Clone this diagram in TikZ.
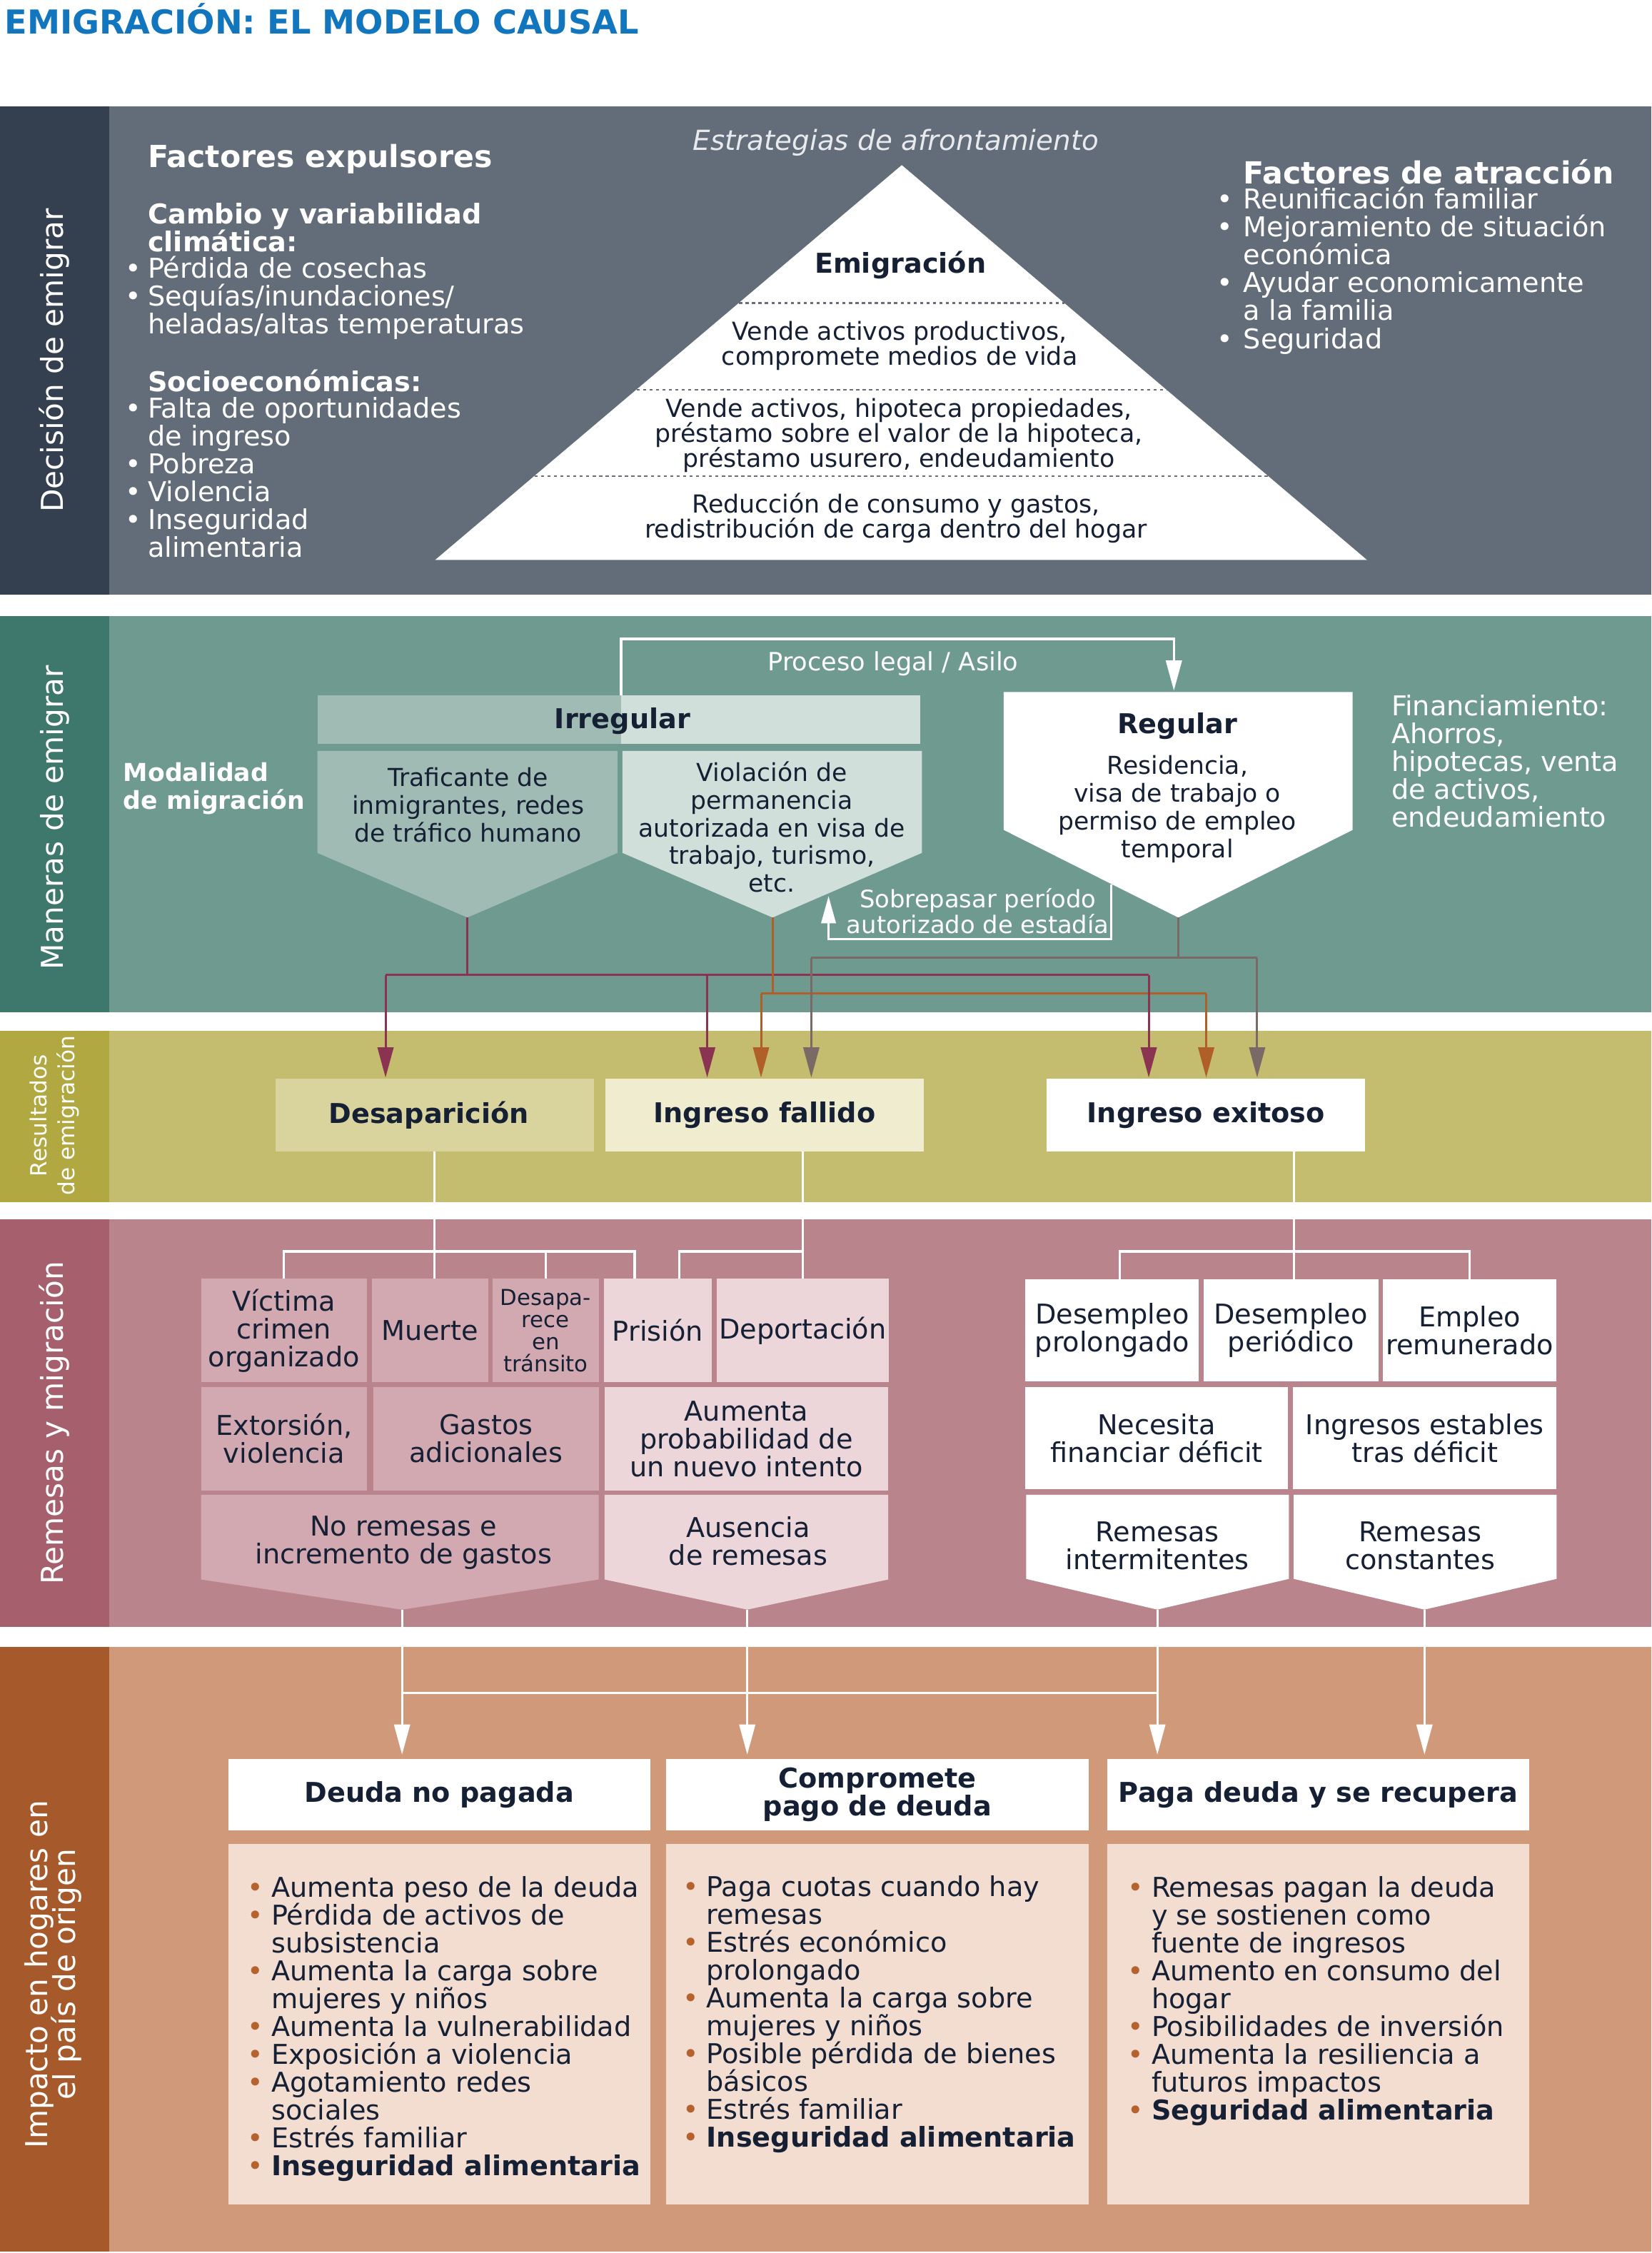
\documentclass[tikz,border=0pt]{standalone}
\usepackage{fontspec}
\setmainfont{DejaVu Sans}
\usetikzlibrary{arrows.meta}
\definecolor{titleblue}{RGB}{17,118,189}
\definecolor{sAbar}{RGB}{52,63,79}
\definecolor{sAbg}{RGB}{99,108,121}
\definecolor{sBbar}{RGB}{62,120,109}
\definecolor{sBbg}{RGB}{111,154,144}
\definecolor{irrmid}{RGB}{160,186,180}
\definecolor{irrlight}{RGB}{208,223,217}
\definecolor{sCbar}{RGB}{178,168,66}
\definecolor{sCbg}{RGB}{196,189,111}
\definecolor{desapc}{RGB}{217,212,158}
\definecolor{fallc}{RGB}{240,236,208}
\definecolor{sDbar}{RGB}{165,95,109}
\definecolor{sDbg}{RGB}{186,132,141}
\definecolor{pinkmid}{RGB}{211,169,177}
\definecolor{pinklight}{RGB}{236,214,218}
\definecolor{sEbar}{RGB}{166,89,42}
\definecolor{sEbg}{RGB}{208,153,122}
\definecolor{bodyc}{RGB}{242,221,208}
\definecolor{bulc}{RGB}{181,98,46}
\definecolor{txtc}{RGB}{22,32,52}
\definecolor{redl}{RGB}{139,52,82}
\definecolor{orl}{RGB}{176,95,40}
\definecolor{gyl}{RGB}{122,106,101}
\definecolor{dotc}{RGB}{105,110,120}
\definecolor{italc}{RGB}{232,234,238}
\newcommand\fb{\fontsize{19}{19.4}\selectfont\lineskiplimit=-50pt\relax}
\newcommand\fbb{\fontsize{19}{19.4}\selectfont\bfseries\lineskiplimit=-50pt\relax}
\newcommand\fhead{\fontsize{21.2}{22}\selectfont\bfseries}
\newcommand\fmid{\fontsize{17.2}{19.3}\selectfont\lineskiplimit=-50pt\relax}
\newcommand\fmidb{\fontsize{17.2}{19.3}\selectfont\bfseries\lineskiplimit=-50pt\relax}
\newcommand\ftri{\fontsize{17.3}{17.4}\selectfont\lineskiplimit=-50pt\relax}
\newcommand\fsob{\fontsize{16.8}{17.5}\selectfont\lineskiplimit=-50pt\relax}
\newcommand\fvert{\fontsize{21}{19.5}\selectfont\lineskiplimit=-50pt\relax}
\newcommand\fverts{\fontsize{15.5}{19.2}\selectfont\lineskiplimit=-50pt\relax}
\newcommand\fdes{\fontsize{15.3}{15.4}\selectfont\lineskiplimit=-50pt\relax}
\newcommand\bulW{\llap{•\hspace{4.4pt}}}
\newcommand\bulR{\llap{•\hspace{7.4pt}}}
\newcommand\bulO{\llap{\textcolor{bulc}{•}\hspace{5.4pt}}}
\tikzset{
  dt/.style={inner sep=0pt, outer sep=0pt, align=center, text=txtc, font=\fb},
  wt/.style={inner sep=0pt, outer sep=0pt, align=center, text=white, font=\fb},
  vt/.style={inner sep=0pt, align=center, text=white, font=\fvert, rotate=90},
  cbox/.style={inner sep=0pt, outer sep=0pt, align=center, text=txtc, font=\fb},
  wl/.style={draw=white, line width=1.6pt},
  cl/.style={line width=1.5pt},
  arr/.style={-{Triangle[length=21pt,width=11pt]}, shorten >=1pt},
  dotl/.style={draw=dotc, line width=1.3pt, dash pattern=on 2.2pt off 2.3pt},
}
\begin{document}
\begin{tikzpicture}[x=1pt,y=-1pt]
\useasboundingbox (0,0) rectangle (1150,1569.1);
\fill[white] (0,0) rectangle (1150,1569.1);

% ---------- title
\node[anchor=base west, inner sep=0pt, text=titleblue, font=\fontsize{23}{24}\selectfont\bfseries] (title) at (3,23.8) {EMIGRACIÓN: EL MODELO CAUSAL};

% ---------- section 1
\fill[sAbg] (0,74) rectangle (1150,414);
\fill[sAbar] (0,74) rectangle (76,414);
\node[vt] (vA) at (38,251) {Decisión de emigrar};

\fill[white] (628,115) -- (952,390) -- (303,390) -- cycle;
\draw[dotl] (514.7,211) -- (741.3,211);
\draw[dotl] (443.3,271.5) -- (812.7,271.5);
\draw[dotl] (372.2,331.7) -- (883.8,331.7);
\node[dt, font=\fbb] (emig) at (627,184.5) {Emigración};
\node[dt, font=\ftri] (tri1) at (626.5,241) {Vende activos productivos,\\compromete medios de vida};
\node[dt, font=\ftri] (tri2) at (626,303) {Vende activos, hipoteca propiedades,\\préstamo sobre el valor de la hipoteca,\\préstamo usurero, endeudamiento};
\node[dt, font=\ftri] (tri3) at (624,361) {Reducción de consumo y gastos,\\redistribución de carga dentro del hogar};
\node[inner sep=0pt, text=italc, font=\fontsize{19.3}{20}\selectfont\itshape] (estr) at (624,99.5) {Estrategias de afrontamiento};

\node[wt, font=\fhead, anchor=west] (fexp) at (103,110.5) {Factores expulsores};
\node[wt, font=\fbb, anchor=west, align=left] (cambio) at (103,158.5) {Cambio y variabilidad\\climática:};
\node[wt, anchor=west, align=left] (listA) at (103,207.5) {\bulW Pérdida de cosechas\\\bulW Sequías/inundaciones/\\heladas/altas temperaturas};
\node[wt, font=\fbb, anchor=west] (socio) at (103,265) {Socioeconómicas:};
\node[wt, anchor=west, align=left] (listB) at (103,332.5) {\bulW Falta de oportunidades\\de ingreso\\\bulW Pobreza\\\bulW Violencia\\\bulW Inseguridad\\alimentaria};

\node[wt, font=\fhead, anchor=west] (fatr) at (866,119.5) {Factores de atracción};
\node[wt, anchor=west, align=left] (listC) at (866,188.5) {\bulR Reunificación familiar\\\bulR Mejoramiento de situación\\económica\\\bulR Ayudar economicamente\\a la familia\\\bulR Seguridad};

% ---------- section 2
\fill[sBbg] (0,429) rectangle (1150,705);
\fill[sBbar] (0,429) rectangle (76,705);
\node[vt] (vB) at (38,569.5) {Maneras de emigrar};
\node[wt, font=\fmidb, anchor=west, align=left] (modal) at (86,549) {Modalidad\\de migración};

\fill[irrmid] (221,484) rectangle (432.5,518);
\fill[irrlight] (432.5,484) rectangle (641,518);
\node[dt, font=\fbb] (irr) at (433.5,502) {Irregular};
\coordinate (irrtop) at (432.5,484);

\fill[irrmid] (221,523) -- (430,523) -- (430,594) -- (325.5,639) -- (221,594) -- cycle;
\coordinate (traf) at (325.5,639);
\node[dt, font=\fmid] (traftxt) at (326,560.5) {Traficante de\\inmigrantes, redes\\de tráfico humano};

\fill[irrlight] (433.5,523) -- (642,523) -- (642,594) -- (538,639) -- (433.5,594) -- cycle;
\coordinate (viol) at (538,639);
\coordinate (violedge) at (577,624);
\node[dt, font=\fmid] (violtxt) at (537.5,576) {Violación de\\permanencia\\autorizada en visa de\\trabajo, turismo,\\etc.};

\fill[white] (699,482) -- (942,482) -- (942,578) -- (820.5,639) -- (699,578) -- cycle;
\coordinate (reg) at (820.5,639);
\coordinate (regin) at (817.5,482);
\coordinate (regedge) at (774,616);
\node[dt, font=\fbb] (regt) at (820,505.5) {Regular};
\node[dt, font=\fmid] (regtxt) at (820,563.5) {Residencia,\\visa de trabajo o\\permiso de empleo\\temporal};

\draw[wl, arr] (irrtop) -- ++(0,-39) -| (regin);
\node[wt, font=\fontsize{17.5}{18}\selectfont] (proc) at (622,462.5) {Proceso legal / Asilo};
\draw[wl, -{Triangle[length=19pt,width=10pt]}] (regedge) -- ++(0,38) -| (violedge);
\node[wt, font=\fsob] (sobre) at (681,634.5) {Sobrepasar período\\autorizado de estadía};
\node[wt, anchor=west, align=left] (fin) at (969,530.2) {Financiamiento:\\Ahorros,\\hipotecas, venta\\de activos,\\endeudamiento};

% ---------- section 3
\fill[sCbg] (0,718) rectangle (1150,837);
\fill[sCbar] (0,718) rectangle (76,837);
\node[vt, font=\fverts] (vC) at (38,777) {Resultados\\de emigración};
\node[cbox, font=\fbb, fill=desapc, minimum width=222pt, minimum height=50.5pt] (desap) at (302.7,776.7) {Desaparición\hspace{8pt}};
\node[cbox, font=\fbb, fill=fallc, minimum width=221.5pt, minimum height=50.5pt] (fallido) at (532.4,776.7) {Ingreso fallido};
\node[cbox, font=\fbb, fill=white, minimum width=222pt, minimum height=50.5pt] (exito) at (839.8,776.7) {Ingreso exitoso};

% colored connectors
\coordinate (g1) at (565,667); \coordinate (g2) at (875.5,667);
\coordinate (r1) at (268.5,679); \coordinate (r2) at (492.5,679); \coordinate (r3) at (800,679);
\coordinate (o1) at (530,692); \coordinate (o2) at (840,692);
\draw[cl, gyl] (reg) -- (reg |- g1);
\draw[cl, gyl] (g1) -- (g2);
\draw[cl, redl] (traf) -- (traf |- r1);
\draw[cl, redl] (r1) -- (r3);
\draw[cl, orl] (viol) -- (viol |- o1);
\draw[cl, orl] (o1) -- (o2);
\draw[cl, gyl, arr] (g1) -- (g1 |- fallido.north);
\draw[cl, gyl, arr] (g2) -- (g2 |- exito.north);
\draw[cl, redl, arr] (r1) -- (r1 |- desap.north);
\draw[cl, redl, arr] (r2) -- (r2 |- fallido.north);
\draw[cl, redl, arr] (r3) -- (r3 |- exito.north);
\draw[cl, orl, arr] (o1) -- (o1 |- fallido.north);
\draw[cl, orl, arr] (o2) -- (o2 |- exito.north);

% ---------- section 4
\fill[sDbg] (0,849) rectangle (1150,1133);
\fill[sDbar] (0,849) rectangle (76,1133);
\node[vt] (vD) at (38,991) {Remesas y migración};

\node[cbox, fill=pinkmid, minimum width=115.6pt, minimum height=72pt] (victima) at (197.8,926.6) {Víctima\\crimen\\organizado};
\node[cbox, fill=pinkmid, minimum width=81pt, minimum height=72pt] (muerte) at (299.5,926.6) {Muerte};
\node[cbox, font=\fdes, fill=pinkmid, minimum width=74pt, minimum height=72pt] (desapt) at (380,926.6) {Desapa-\\rece\\en\\tránsito};
\node[cbox, fill=pinklight, minimum width=75pt, minimum height=72pt] (prision) at (458.1,926.6) {Prisión};
\node[cbox, fill=pinklight, minimum width=120pt, minimum height=72pt] (depor) at (559,926.6) {\raisebox{-2pt}{Deportación}};

\node[cbox, fill=pinkmid, minimum width=115.6pt, minimum height=72pt] (extor) at (197.8,1002) {Extorsión,\\violencia};
\node[cbox, fill=pinkmid, minimum width=157pt, minimum height=72pt] (gastos) at (338.5,1002) {Gastos\\adicionales};
\node[cbox, fill=pinklight, minimum width=197.6pt, minimum height=72pt] (aumenta) at (519.8,1002) {Aumenta\\probabilidad de\\un nuevo intento};

\fill[pinkmid] (140,1041) -- (417,1041) -- (417,1100) -- (280,1121) -- (140,1100) -- cycle;
\coordinate (nrp) at (280,1121);
\node[dt] (noremtxt) at (281,1074.5) {No remesas e\\incremento de gastos};
\fill[pinklight] (421,1041) -- (618.6,1041) -- (618.6,1100) -- (520.4,1121) -- (421,1100) -- cycle;
\coordinate (ausp) at (520.4,1121);
\node[dt] (austxt) at (521,1073.5) {Ausencia\\de remesas};

\node[cbox, fill=white, minimum width=121pt, minimum height=71pt] (prolong) at (774.5,926.5) {Desempleo\\prolongado};
\node[cbox, fill=white, minimum width=122pt, minimum height=71pt] (perio) at (899,926.5) {Desempleo\\periódico};
\node[cbox, fill=white, minimum width=121pt, minimum height=71pt] (remun) at (1023.5,926.5) {Empleo\\remunerado};
\node[cbox, fill=white, minimum width=183pt, minimum height=71pt] (necesita) at (805.5,1001.5) {Necesita\\financiar déficit};
\node[cbox, fill=white, minimum width=183.5pt, minimum height=71pt] (ingest) at (992.25,1001.5) {Ingresos estables\\tras déficit};
\fill[white] (714.6,1041) -- (897.6,1041) -- (897.6,1099.6) -- (806,1121) -- (714.6,1099.6) -- cycle;
\coordinate (intp) at (806,1121);
\node[dt] (inttxt) at (806,1076.5) {Remesas\\intermitentes};
\fill[white] (901,1041) -- (1084,1041) -- (1084,1099.6) -- (992,1121) -- (901,1099.6) -- cycle;
\coordinate (conp) at (992,1121);
\node[dt] (contxt) at (989,1076.5) {Remesas\\constantes};

% white tree connectors
\draw[wl] (desap.south) -- (desap.south |- muerte.north);
\draw[wl] (victima.north) |- (442,871.5) -- (prision.north -| 442,0);
\draw[wl] (desapt.north |- 0,871.5) -- (desapt.north);
\draw[wl] (depor.north |- fallido.south) -- (depor.north);
\draw[wl] (depor.north |- 0,871.5) -| (prision.north -| 473,0);
\draw[wl] (exito.south -| 901,0) -- (perio.north -| 901,0);
\draw[wl] (prolong.north -| 780,0) |- (remun.north |- 0,871.5) -- (remun.north);

% ---------- section 5
\fill[sEbg] (0,1147) rectangle (1150,1568);
\fill[sEbar] (0,1147) rectangle (76,1568);
\node[vt] (vE) at (37,1375) {Impacto en hogares en\\el país de origen};

\node[cbox, font=\fbb, fill=white, minimum width=293.7pt, minimum height=50pt] (deuda) at (305.85,1250) {Deuda no pagada};
\node[cbox, font=\fbb, fill=white, minimum width=294pt, minimum height=50pt] (compro) at (611,1250) {Compromete\\pago de deuda};
\node[cbox, font=\fbb, fill=white, minimum width=294pt, minimum height=50pt] (paga) at (918,1250) {Paga deuda y se recupera};
\fill[bodyc] (159,1284) rectangle (452.7,1535.5);
\fill[bodyc] (464,1284) rectangle (758,1535.5);
\fill[bodyc] (771,1284) rectangle (1065,1535.5);

\draw[wl] (nrp |- 0,1179) -- (intp |- 0,1179);
\draw[wl, arr, shorten >=3pt] (nrp) -- (nrp |- deuda.north);
\draw[wl, arr, shorten >=3pt] (ausp) -- (ausp |- compro.north);
\draw[wl, arr, shorten >=3pt] (intp) -- (intp |- paga.north);
\draw[wl, arr, shorten >=3pt] (conp) -- (conp |- paga.north);

\node[dt, anchor=west, align=left] (listD) at (189,1413) {\bulO Aumenta peso de la deuda\\\bulO Pérdida de activos de\\subsistencia\\\bulO Aumenta la carga sobre\\mujeres y niños\\\bulO Aumenta la vulnerabilidad\\\bulO Exposición a violencia\\\bulO Agotamiento redes\\sociales\\\bulO Estrés familiar\\\bulO \textbf{Inseguridad alimentaria}};
\node[dt, anchor=west, align=left] (listE) at (492,1403) {\bulO Paga cuotas cuando hay\\remesas\\\bulO Estrés económico\\prolongado\\\bulO Aumenta la carga sobre\\mujeres y niños\\\bulO Posible pérdida de bienes\\básicos\\\bulO Estrés familiar\\\bulO \textbf{Inseguridad alimentaria}};
\node[dt, anchor=west, align=left] (listF) at (802,1393.5) {\bulO Remesas pagan la deuda\\y se sostienen como\\fuente de ingresos\\\bulO Aumento en consumo del\\hogar\\\bulO Posibilidades de inversión\\\bulO Aumenta la resiliencia a\\futuros impactos\\\bulO \textbf{Seguridad alimentaria}};
\end{tikzpicture}
\end{document}
